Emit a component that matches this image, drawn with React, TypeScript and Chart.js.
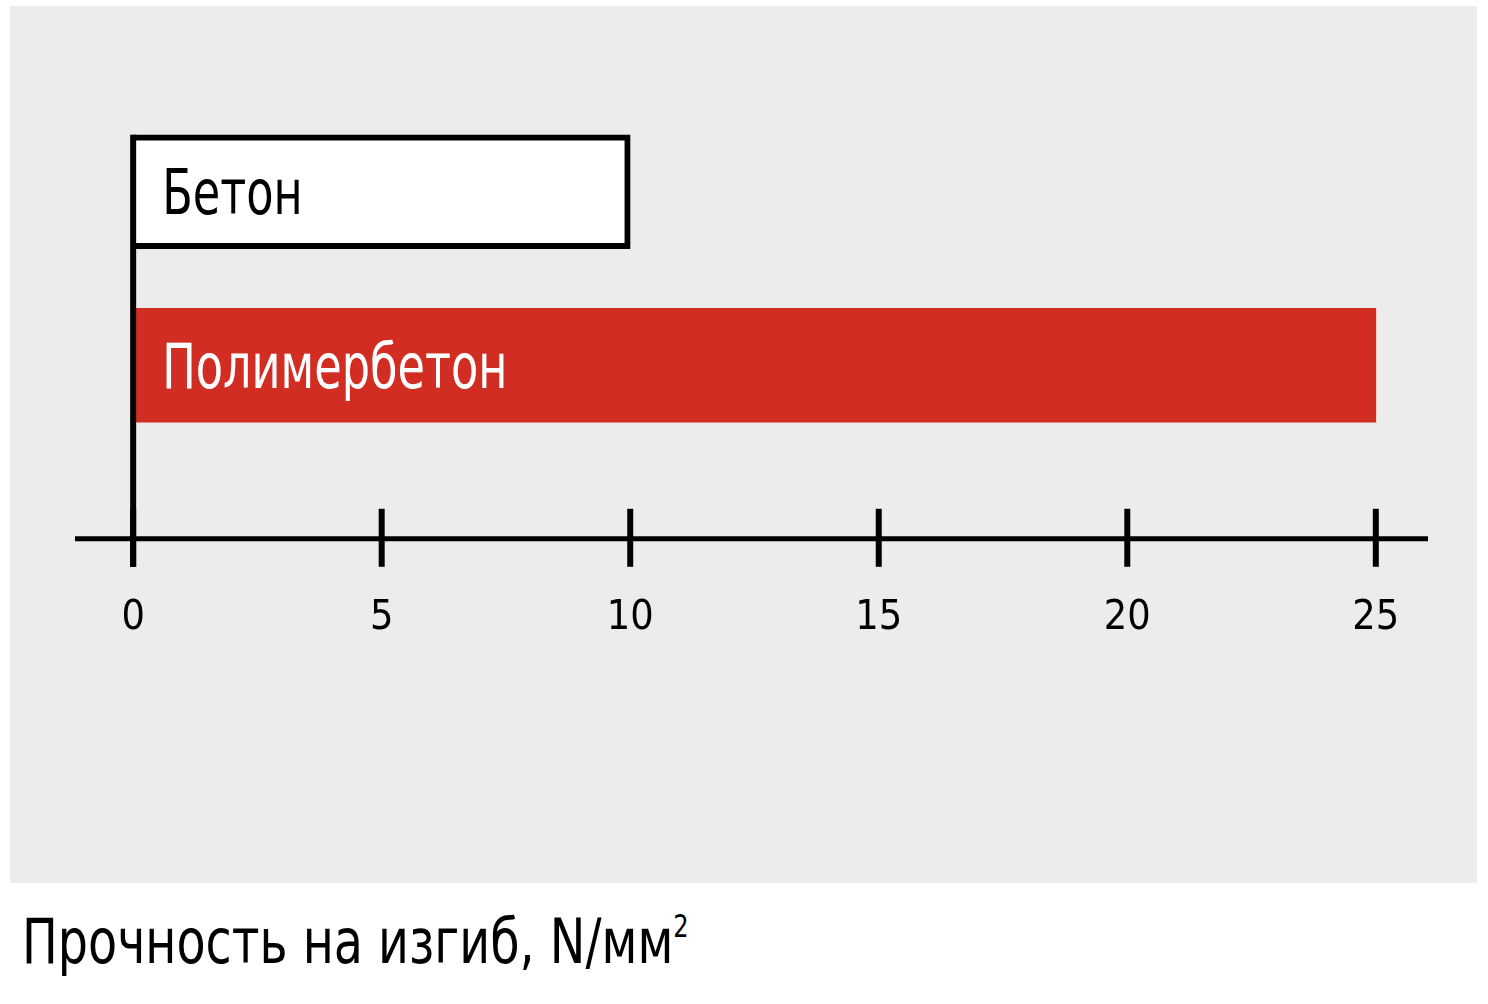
import { useEffect, useRef } from "react"
import { Chart, registerables } from "chart.js"

Chart.register(...registerables)

const categories = ["Бетон", "Полимербетон"]
const values = [10, 25]
const tickValues = [0, 5, 10, 15, 20, 25]
const barColors = ["#ffffff", "#d12d23"]
const barBorderColors = ["#000000", "rgba(0,0,0,0)"]
const barBorderWidths = [6, 0]
const labelColors = ["#000000", "#ffffff"]

const FONT = '"Liberation Sans Narrow", "DejaVu Sans Condensed", "Arial Narrow", sans-serif'
const SQUEEZE = 0.8

// axis line, crossing ticks, zero line and in-bar labels
const decorPlugin = {
  id: "decor",
  afterDatasetsDraw(chart: any) {
    const { ctx, chartArea, scales } = chart
    const xScale = scales.x
    const axisY = chartArea.bottom
    const zeroX = xScale.getPixelForValue(0)
    const meta = chart.getDatasetMeta(0)

    ctx.save()
    ctx.strokeStyle = "#000"
    ctx.lineCap = "butt"

    ctx.lineWidth = 5
    ctx.beginPath()
    ctx.moveTo(chartArea.left, axisY)
    ctx.lineTo(chartArea.right, axisY)
    ctx.stroke()

    ctx.lineWidth = 6
    xScale.ticks.forEach((t: any) => {
      const px = xScale.getPixelForValue(t.value)
      ctx.beginPath()
      ctx.moveTo(px, axisY - 30)
      ctx.lineTo(px, axisY + 28)
      ctx.stroke()
    })

    const first = meta.data[0].getProps(["y", "height"], true)
    ctx.beginPath()
    ctx.moveTo(zeroX, first.y - first.height / 2)
    ctx.lineTo(zeroX, axisY + 28)
    ctx.stroke()

    const size = 62
    ctx.font = `${size}px ${FONT}`
    ctx.textBaseline = "alphabetic"
    ctx.textAlign = "left"
    meta.data.forEach((bar: any, i: number) => {
      const { y } = bar.getProps(["y"], true)
      ctx.save()
      ctx.translate(zeroX + 29, y + size * 0.36)
      ctx.scale(SQUEEZE, 1)
      ctx.fillStyle = labelColors[i]
      ctx.fillText(categories[i], 0, 0)
      ctx.restore()
    })
    ctx.restore()
  },
}

function StrengthChart() {
  const chartRef = useRef<HTMLCanvasElement>(null)
  const chartInstance = useRef<Chart | null>(null)

  useEffect(() => {
    if (!chartRef.current) return
    if (chartInstance.current) chartInstance.current.destroy()
    const ctx = chartRef.current.getContext("2d")
    if (!ctx) return

    chartInstance.current = new Chart(ctx, {
      type: "bar",
      data: {
        datasets: [
          {
            data: categories.map((_, i) => ({ x: values[i], y: i })) as any,
            backgroundColor: barColors,
            borderColor: barBorderColors,
            borderWidth: barBorderWidths,
            borderSkipped: "start",
            barThickness: 114,
          },
        ],
      },
      options: {
        indexAxis: "y",
        animation: false,
        responsive: true,
        maintainAspectRatio: false,
        layout: {
          padding: { left: 65, right: 49, top: 99, bottom: 185 },
        },
        plugins: {
          legend: { display: false },
          tooltip: { enabled: false },
        },
        scales: {
          x: {
            type: "linear",
            min: -1.17,
            max: 26.05,
            grid: { display: false, drawTicks: false },
            border: { display: false },
            afterBuildTicks: (axis: any) => {
              axis.ticks = tickValues.map((v) => ({ value: v }))
            },
            ticks: {
              padding: 55,
              color: "#000",
              font: { family: FONT, size: 41 },
            },
          },
          y: {
            type: "linear",
            display: false,
            reverse: true,
            offset: false,
            min: -0.5,
            max: 2,
          },
        },
      },
      plugins: [decorPlugin],
    })

    return () => {
      if (chartInstance.current) {
        chartInstance.current.destroy()
        chartInstance.current = null
      }
    }
  }, [])

  return (
    <div style={{ position: "absolute", left: 10, top: 6, width: 1467, height: 877, background: "#ececec" }}>
      <canvas ref={chartRef} />
    </div>
  )
}

export default function App() {
  return (
    <div style={{ position: "fixed", left: 0, top: 0, width: 1488, height: 1004, background: "#fff", overflow: "hidden" }}>
      <StrengthChart />
      <div
        style={{
          position: "absolute",
          left: 22,
          top: 910,
          fontFamily: FONT,
          fontSize: 63,
          lineHeight: 1,
          color: "#000",
          whiteSpace: "nowrap",
          transform: "scaleX(0.84)",
          transformOrigin: "left top",
        }}
      >
        Прочность на изгиб, N/мм
        <span style={{ fontSize: 32, position: "relative", top: -26 }}>2</span>
      </div>
    </div>
  )
}
